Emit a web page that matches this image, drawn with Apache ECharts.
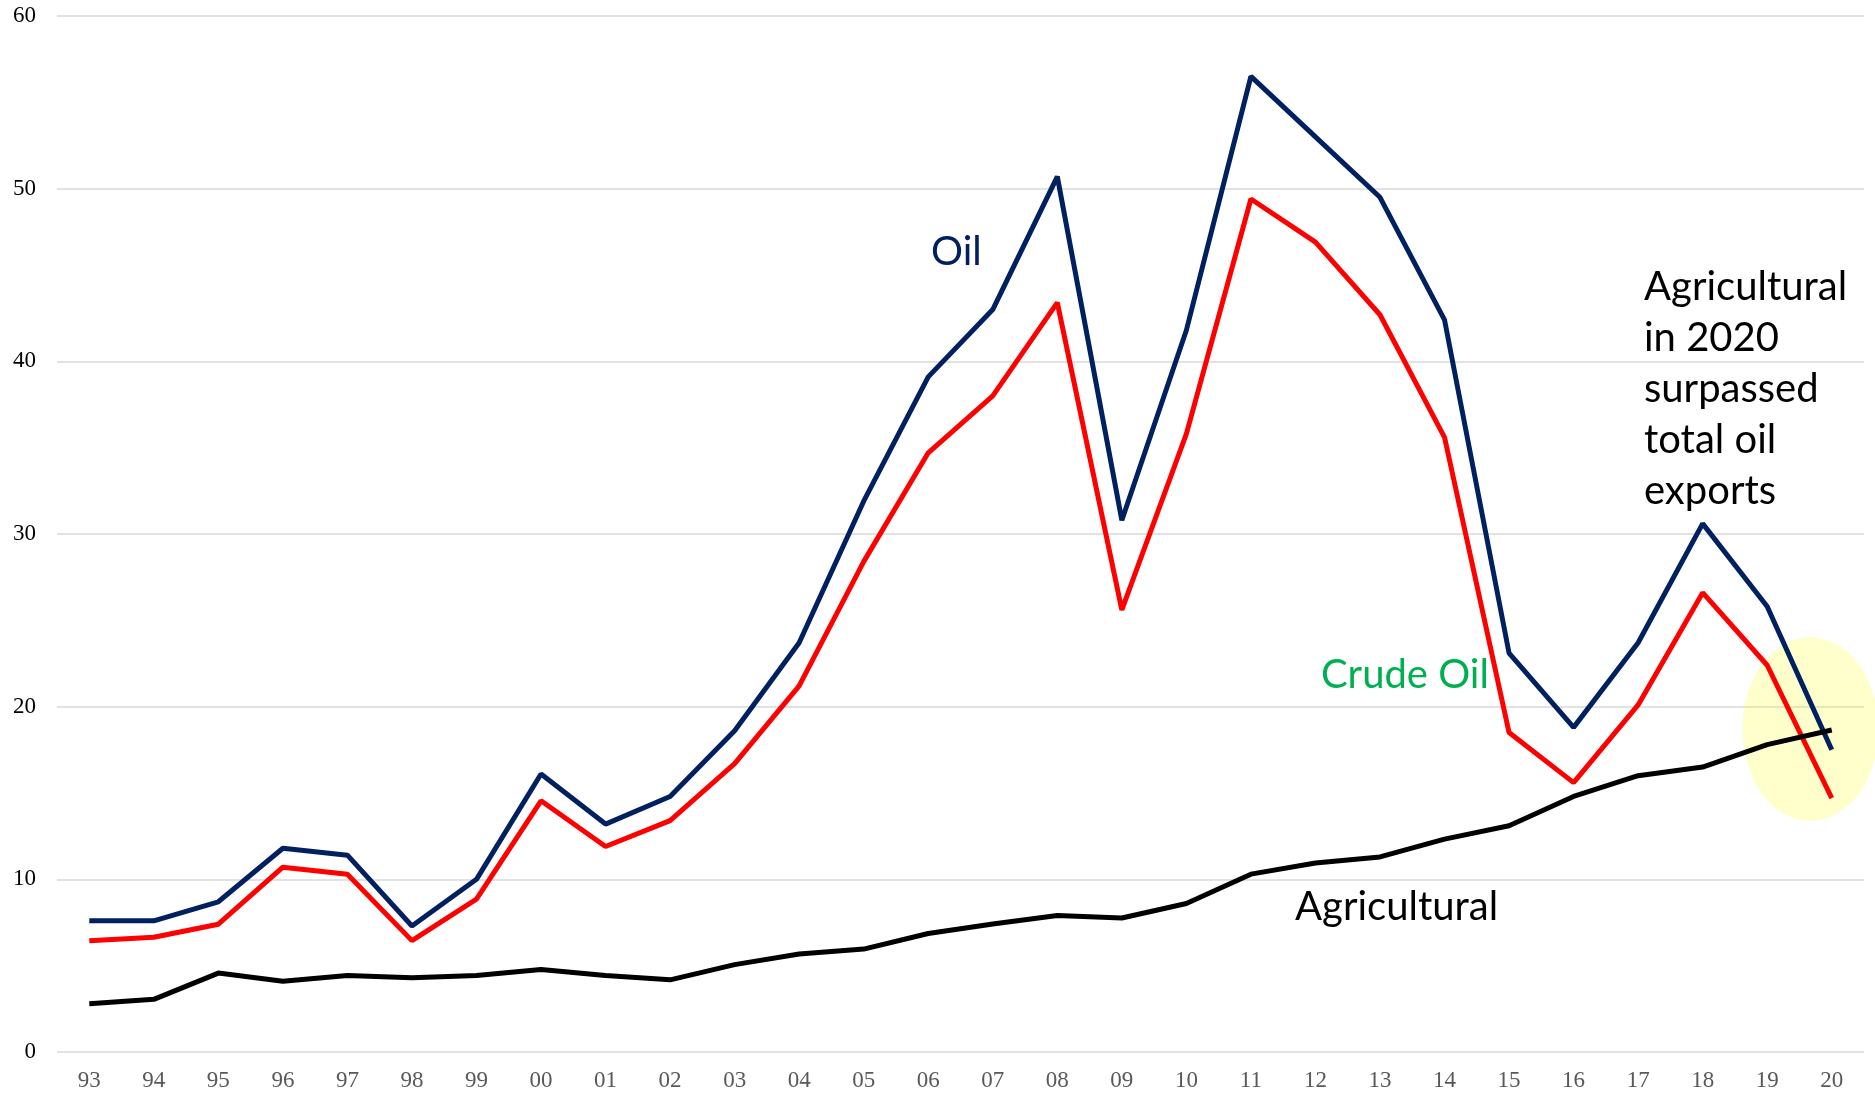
<!DOCTYPE html>
<html>
<head>
<meta charset="utf-8">
<script src="https://cdn.jsdelivr.net/npm/echarts@6/dist/echarts.min.js"></script>
<style>
html,body{margin:0;padding:0;background:#fff;}
#chart{width:1875px;height:1094px;}
</style>
</head>
<body>
<div id="chart"></div>
<script>
var years = ['93','94','95','96','97','98','99','00','01','02','03','04','05','06','07','08','09','10','11','12','13','14','15','16','17','18','19','20'];
var oil = [7.6,7.6,8.7,11.8,11.4,7.3,10.0,16.1,13.2,14.8,18.6,23.7,31.9,39.1,43.0,50.7,30.8,41.8,56.5,53.0,49.5,42.4,23.1,18.8,23.7,30.6,25.8,17.5];
var crude = [6.45,6.65,7.4,10.7,10.3,6.45,8.85,14.55,11.9,13.4,16.7,21.2,28.4,34.7,38.0,43.4,25.6,35.8,49.4,46.9,42.7,35.6,18.5,15.6,20.1,26.6,22.4,14.7];
var agri = [2.8,3.05,4.57,4.1,4.43,4.3,4.43,4.78,4.43,4.18,5.06,5.68,5.96,6.86,7.41,7.9,7.76,8.6,10.3,10.95,11.3,12.33,13.1,14.8,16.0,16.5,17.8,18.65];
var yTicks = [0,10,20,30,40,50,60];

var chart = echarts.init(document.getElementById('chart'));
var txtFont = 'Lato, "Open Sans", sans-serif';
var option = {
  animation: false,
  backgroundColor: '#ffffff',
  grid: {left: 57, right: 11, top: 16, bottom: 42, containLabel: false},
  xAxis: {
    type: 'category',
    data: years,
    boundaryGap: true,
    axisLine: {show: false},
    axisTick: {show: false},
    axisLabel: {color: '#595959', fontFamily: '"Liberation Serif", "DejaVu Serif", serif', fontSize: 23, margin: 17}
  },
  yAxis: {
    type: 'value',
    min: yTicks[0],
    max: yTicks[yTicks.length - 1],
    interval: 10,
    axisLine: {show: false},
    axisTick: {show: false},
    axisLabel: {color: '#000000', fontFamily: '"Liberation Serif", "DejaVu Serif", serif', fontSize: 23, margin: 21},
    splitLine: {lineStyle: {color: '#d9d9d9', width: 1.5}}
  },
  series: [
    {name: 'Oil', type: 'line', data: oil, symbol: 'none', z: 3, lineStyle: {color: '#002060', width: 5}},
    {name: 'Crude Oil', type: 'line', data: crude, symbol: 'none', z: 4, lineStyle: {color: '#ff0000', width: 5}},
    {name: 'Agricultural', type: 'line', data: agri, symbol: 'none', z: 5, lineStyle: {color: '#000000', width: 5}}
  ]
};
chart.setOption(option);

// ellipse highlight around the 2020 crossover, located via the axes
var p20 = chart.convertToPixel({gridIndex: 0}, [years.length - 1, 18.7]);
var p19 = chart.convertToPixel({gridIndex: 0}, [years.length - 2, 18.7]);
var step = p20[0] - p19[0];
var cx = p20[0] - step * 0.33;
var cy = p20[1];

chart.setOption({
  graphic: [
    {type: 'circle', x: cx, y: cy, scaleX: 68 / 92, scaleY: 1, shape: {cx: 0, cy: 0, r: 92}, style: {fill: 'rgba(255,255,0,0.2)'}, z: 1, silent: true},
    {type: 'text', left: 931, top: 232, z: 10, style: {text: 'Oil', fill: '#002060', font: '40px ' + txtFont}},
    {type: 'text', left: 1321, top: 655, z: 10, style: {text: 'Crude Oil', fill: '#00b050', font: '40px ' + txtFont}},
    {type: 'text', left: 1295, top: 887, z: 10, style: {text: 'Agricultural', fill: '#000000', font: '40px ' + txtFont}},
    {type: 'text', left: 1644, top: 262, z: 10, style: {text: 'Agricultural\nin 2020\nsurpassed\ntotal oil\nexports', fill: '#000000', font: '40px ' + txtFont, lineHeight: 51}}
  ]
});
</script>
</body>
</html>
